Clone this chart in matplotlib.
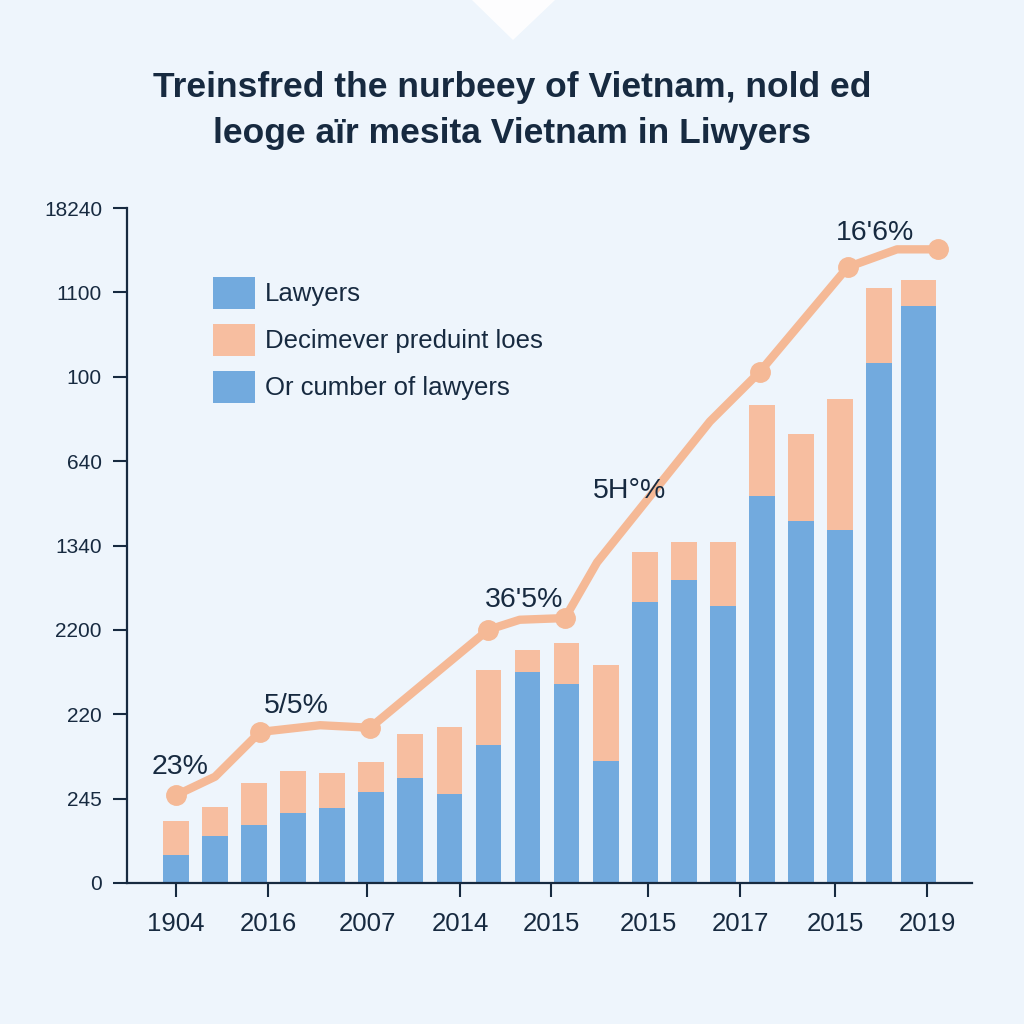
import matplotlib
matplotlib.use("Agg")
import matplotlib.pyplot as plt
from matplotlib.patches import Patch, Polygon

plt.rcParams['font.family'] = ['Liberation Sans', 'DejaVu Sans']

# ---- data (axis units are tick steps) ----
title_lines = ["Treinsfred the nurbeey of Vietnam, nold ed",
               "leoge aïr mesita Vietnam in Liwyers"]
ytick_labels = ["0", "245", "220", "2200", "1340", "640", "100", "1100", "18240"]
xtick_labels = ["1904", "2016", "2007", "2014", "2015", "2015", "2017", "2015", "2019"]
legend_labels = ["Lawyers", "Decimever preduint loes", "Or cumber of lawyers"]

lawyers = [0.33, 0.56, 0.69, 0.83, 0.89, 1.08, 1.24, 1.06, 1.64, 2.50,
           2.36, 1.45, 3.33, 3.59, 3.28, 4.59, 4.29, 4.18, 6.16, 6.84]
extra = [0.41, 0.34, 0.50, 0.50, 0.41, 0.36, 0.53, 0.79, 0.88, 0.26,
         0.49, 1.13, 0.59, 0.45, 0.76, 1.08, 1.03, 1.56, 0.89, 0.31]

line_x = [0.0, 1.0, 2.15, 3.69, 4.97, 7.99, 8.8, 9.96, 10.78, 13.67, 14.95, 17.2, 18.46, 19.5]
line_y = [1.04, 1.26, 1.79, 1.87, 1.84, 3.00, 3.12, 3.14, 3.80, 5.47, 6.06, 7.30, 7.51, 7.51]
marker_x = [0.0, 2.15, 4.97, 7.99, 9.96, 14.95, 17.2, 19.5]
marker_y = [1.04, 1.79, 1.84, 3.00, 3.14, 6.06, 7.30, 7.51]

ann_text = ["23%", "5/5%", "36'5%", "5H°%", "16'6%"]
ann_x = [0.1, 3.08, 8.9, 11.6, 17.9]
ann_y = [1.22, 1.94, 3.20, 4.49, 7.55]

# ---- layout / style ----
BG = "#EEF5FC"
BLUE = "#72AADE"
PEACH = "#F7BEA0"
LINE = "#F5B996"
INK = "#172A40"

fig = plt.figure(figsize=(10.24, 10.24), dpi=100, facecolor=BG)
# decorative notch at the top
fig.patches.append(Polygon([[472/1024, 1.0], [555/1024, 1.0], [513/1024, 1 - 40/1024]],
                           closed=True, transform=fig.transFigure,
                           facecolor="white", edgecolor="none", alpha=0.9))

ax = fig.add_axes([127/1024, 1 - 883/1024, (972 - 127)/1024, (883 - 208)/1024])
ax.set_facecolor(BG)

xs = list(range(len(lawyers)))
widths = [0.66] * (len(lawyers) - 1) + [0.9]
ax.bar(xs, lawyers, width=widths, color=BLUE, zorder=2)
ax.bar(xs, extra, bottom=lawyers, width=widths, color=PEACH, zorder=2)

ax.plot(line_x, line_y, color=LINE, lw=6, solid_capstyle='round',
        solid_joinstyle='round', zorder=3, clip_on=False)
ax.plot(marker_x, marker_y, 'o', color=LINE, ms=14, zorder=4, clip_on=False)

for t, x, y in zip(ann_text, ann_x, ann_y):
    ax.text(x, y, t, fontsize=20.5, color=INK, ha='center', va='bottom', zorder=5)

ax.set_xlim(-1.255, 20.38)
ax.set_ylim(0, 8)

ax.set_yticks(range(len(ytick_labels)))
ax.set_yticklabels(ytick_labels, fontsize=15, color=INK)
xtick_pos = [0, 2.36, 4.89, 7.27, 9.6, 12.09, 14.45, 16.88, 19.23]
ax.set_xticks(xtick_pos)
ax.set_xticklabels(xtick_labels, fontsize=18.5, color=INK)
ax.tick_params(axis='both', length=10, width=1.5, color=INK, direction='out')
ax.tick_params(axis='y', pad=8)
ax.tick_params(axis='x', pad=11)

for s in ['top', 'right']:
    ax.spines[s].set_visible(False)
for s in ['left', 'bottom']:
    ax.spines[s].set_color(INK)
    ax.spines[s].set_linewidth(1.6)

handles = [Patch(facecolor=BLUE), Patch(facecolor=PEACH), Patch(facecolor=BLUE)]
leg = fig.legend(handles, legend_labels, loc='upper left',
                 bbox_to_anchor=(213/1024, 1 - 277/1024), bbox_transform=fig.transFigure,
                 frameon=False, fontsize=18.5, handlelength=1.63, handleheight=1.54,
                 handletextpad=0.4, labelspacing=0.58, borderpad=0, borderaxespad=0)
for t in leg.get_texts():
    t.set_color(INK)

fig.text(0.5, 1 - 87/1024, title_lines[0], ha='center', va='center',
         fontsize=25.5, fontweight='bold', color=INK)
fig.text(0.5, 1 - 133/1024, title_lines[1], ha='center', va='center',
         fontsize=25.5, fontweight='bold', color=INK)

fig.savefig("out.png", dpi=100, facecolor=BG)
